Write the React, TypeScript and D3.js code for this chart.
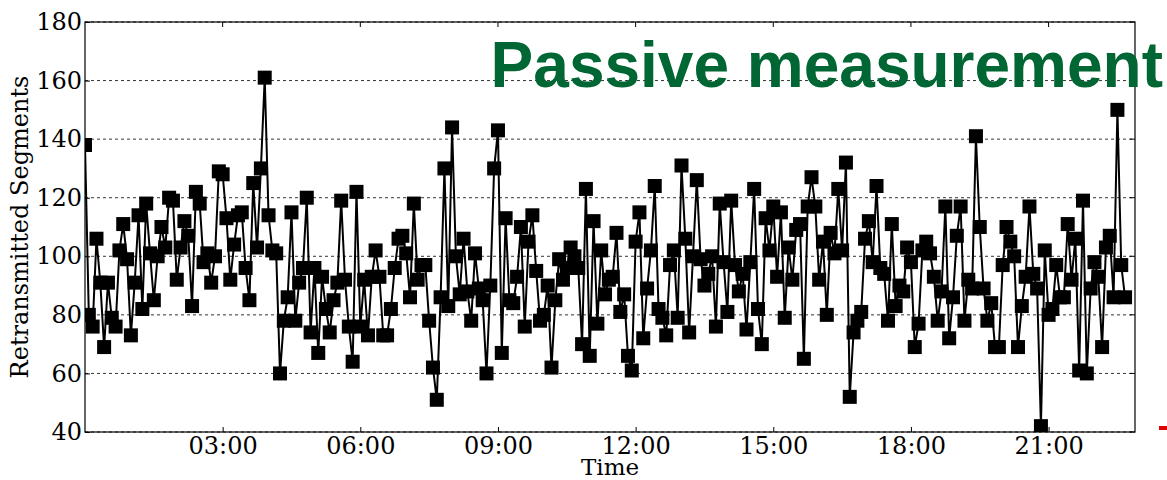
import React, { Component } from "react";
import * as d3 from "d3";

// retransmitted segments, one sample every 5 minutes from 00:00
const retransmitted = [
  138, 80, 76, 106, 91, 69, 91, 79, 76, 102, 111, 99, 73, 91, 114, 82, 118, 101, 85, 100,
  110, 103, 120, 119, 92, 103, 112, 107, 83, 122, 118, 98, 101, 91,
  100, 129, 128, 113, 92, 104, 114, 115, 96, 85, 125, 103, 130, 161, 114, 102,
  101, 60, 78, 86, 115, 78, 91, 96, 120, 74, 96, 67, 93, 82, 74, 85, 91, 119,
  92, 76, 64, 122, 76, 92, 73, 93, 102, 93, 73, 73, 82, 96, 106, 107, 101, 86,
  118, 92, 97, 97, 78, 62, 51, 86, 130, 83, 144, 100, 87, 106, 88, 78,
  101, 89, 85, 60, 90, 130, 143, 67, 113, 85, 84, 93, 110, 76, 105, 114, 95, 78,
  80, 90, 62, 85, 99, 92, 96, 103, 100, 96, 70, 123, 66,
  112, 77, 102, 87, 92, 93, 108, 81, 87, 66, 61, 105, 115, 72, 89, 102, 124, 82,
  79, 73, 97, 102, 79, 131, 106, 74, 100, 126, 99, 90, 94, 100, 76, 118, 98,
  81, 119, 97, 88, 94, 75, 98, 123, 82, 70, 113, 102, 117, 93, 115, 79, 103, 92,
  109, 111, 65, 117, 127, 117, 92, 105, 80, 108, 101, 123, 102, 132, 52,
  74, 78, 81, 106, 112, 98, 124, 96, 94, 78, 111, 83, 90, 88, 103, 98, 69, 77,
  102, 105, 101, 93, 78, 88, 117, 72, 86, 107, 117, 78, 92, 89, 141, 110,
  89, 78, 84, 69, 69, 97, 110, 105, 100, 69, 83, 93, 117, 94, 89, 42, 102, 80,
  82, 97, 86, 86, 111, 92, 106, 61, 119, 60, 89, 98, 93, 69, 103, 107, 86, 150, 97, 86,
];
const sampleMinutes = 5;
const xTickHours = [3, 6, 9, 12, 15, 18, 21];
const yTicks = [40, 60, 80, 100, 120, 140, 160, 180];
const title = "Passive measurement";
const xLabel = "Time";
const yLabel = "Retransmitted Segments";

const day0 = Date.UTC(2014, 0, 1);

class App extends Component {
  svgRef = React.createRef<SVGSVGElement>();

  componentDidMount() {
    this.draw();
  }

  draw() {
    const W = 1167, H = 480;
    const margin = { top: 22, right: 32, bottom: 48, left: 85 };
    const w = W - margin.left - margin.right,
      h = H - margin.top - margin.bottom;
    const serif = "'DejaVu Serif', serif";

    const svg = d3.select(this.svgRef.current).attr("width", W).attr("height", H);
    svg.selectAll("*").remove();

    const data = retransmitted.map((v, i) => ({ t: new Date(day0 + i * sampleMinutes * 60000), v }));

    const x = d3.scaleTime()
      .domain([new Date(day0), new Date(day0 + (22 * 60 + 53) * 60000)])
      .range([0, w]);
    const y = d3.scaleLinear().domain([40, 180]).range([h, 0]);

    svg.append("defs").append("clipPath").attr("id", "plot_clip")
      .append("rect").attr("width", w).attr("height", h);

    const g = svg.append("g").attr("transform", `translate(${margin.left}, ${margin.top})`);

    // horizontal dashed grid
    g.selectAll(".grid").data(yTicks).join("line")
      .attr("class", "grid")
      .attr("x1", 0).attr("x2", w)
      .attr("y1", d => y(d)).attr("y2", d => y(d))
      .attr("stroke", "#000").attr("stroke-width", 0.8)
      .attr("stroke-dasharray", "3,3");

    // frame
    g.append("rect").attr("width", w).attr("height", h)
      .attr("fill", "none").attr("stroke", "#000").attr("stroke-width", 1.2);

    const xTicks = xTickHours.map(hr => new Date(day0 + hr * 3600000));

    // bottom axis with inward ticks
    const xAxis = g.append("g").attr("transform", `translate(0, ${h})`)
      .call(d3.axisBottom(x).tickValues(xTicks).tickFormat(d3.utcFormat("%H:%M") as any)
        .tickSizeInner(-5).tickSizeOuter(0).tickPadding(5));
    xAxis.select(".domain").remove();
    xAxis.selectAll("text").attr("font-family", serif).attr("font-size", 24).attr("fill", "#000");

    g.selectAll(".top_tick").data(xTicks).join("line")
      .attr("class", "top_tick")
      .attr("x1", d => x(d)).attr("x2", d => x(d)).attr("y1", 0).attr("y2", 5)
      .attr("stroke", "#000");

    const yAxis = g.append("g")
      .call(d3.axisLeft(y).tickValues(yTicks).tickSizeInner(-5).tickSizeOuter(0).tickPadding(3));
    yAxis.select(".domain").remove();
    yAxis.selectAll("text").attr("font-family", serif).attr("font-size", 24).attr("fill", "#000");

    g.selectAll(".right_tick").data(yTicks).join("line")
      .attr("class", "right_tick")
      .attr("x1", w - 5).attr("x2", w).attr("y1", d => y(d)).attr("y2", d => y(d))
      .attr("stroke", "#000");

    const plot = g.append("g").attr("clip-path", "url(#plot_clip)");

    const line = d3.line<{ t: Date; v: number }>().x(d => x(d.t)).y(d => y(d.v));
    plot.append("path").datum(data)
      .attr("d", line)
      .attr("fill", "none").attr("stroke", "#000").attr("stroke-width", 2);

    const ms = 14;
    plot.selectAll(".marker").data(data).join("rect")
      .attr("class", "marker")
      .attr("x", d => x(d.t) - ms / 2)
      .attr("y", d => y(d.v) - ms / 2)
      .attr("width", ms).attr("height", ms)
      .attr("fill", "#000");

    svg.append("text")
      .attr("x", margin.left + w / 2)
      .attr("y", 475)
      .attr("text-anchor", "middle")
      .attr("font-family", serif).attr("font-size", 23)
      .text(xLabel);

    svg.append("text")
      .attr("transform", `translate(28, ${margin.top + h / 2}) rotate(-90)`)
      .attr("text-anchor", "middle")
      .attr("font-family", serif).attr("font-size", 24)
      .text(yLabel);

    svg.append("text")
      .attr("x", 1163)
      .attr("y", 87)
      .attr("text-anchor", "end")
      .attr("font-family", "'Liberation Sans', Arial, sans-serif")
      .attr("font-weight", "bold")
      .attr("font-size", 64)
      .attr("fill", "#006633")
      .text(title);

    svg.append("rect")
      .attr("x", 1159).attr("y", 426).attr("width", 8).attr("height", 4)
      .attr("fill", "#e00000");
  }

  render() {
    return (
      <svg ref={this.svgRef} style={{ position: "absolute", left: 0, top: 0, background: "#fff" }} />
    );
  }
}

export default App;
